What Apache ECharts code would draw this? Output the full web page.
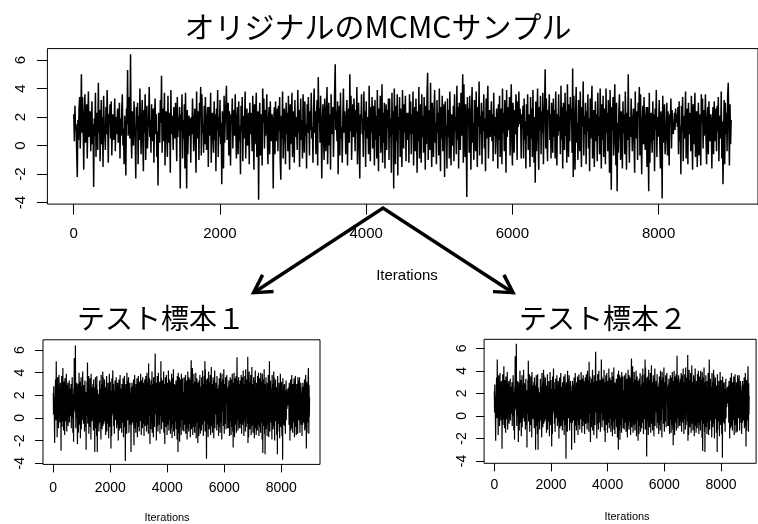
<!DOCTYPE html>
<html>
<head>
<meta charset="utf-8">
<script src="https://cdn.jsdelivr.net/npm/echarts@6/dist/echarts.min.js"></script>
<style>
  html, body { margin: 0; padding: 0; background: #ffffff; }
  #chart { width: 758px; height: 524px; }
</style>
</head>
<body>
<div id="chart"></div>
<script>
// MCMC trace, one value every `iterStep` iterations (1 .. 8993)
const iterStep = 8;
const samples = [
  2.2, 0.3, 2.8, 1.1, 1.5, -0.6, -2.2, 1.8, 0.4, 2.6, 3.4, -0.2, 1.7, 5.0, 0.9, 3.4, 1.3, -1.7, 2.1, 3.6, 0.2, 1.0, 2.9, -0.9, 1.6,
  3.8, 0.6, 1.9, 2.4, -0.4, 1.2, 3.1, 0.1, 1.5, -2.9, 1.9, 0.7, 3.7, -0.8, 2.3, 1.0, -0.3, 4.4, 0.9, 2.5, -1.1, 1.4, 3.2, 0.1, 2.0,
  -1.5, 3.5, 1.4, 0.6, -0.3, 2.7, 0.8, 3.9, 1.6, -1.2, 2.2, 1.6, 2.9, 0.5, 3.1, -0.7, 1.3, 2.2, 0.4, 1.3, 3.3, -0.4, 2.0, 0.8, 1.7,
  2.6, 0.2, 1.1, 3.0, -0.9, 1.9, 0.7, 2.4, 3.6, 0.0, 1.2, -1.3, 2.1, 0.4, -2.1, 2.6, 1.5, 5.3, 0.7, 1.9, 3.4, 0.5, 6.4, 1.0, -0.9,
  2.4, 1.2, 0.0, 3.1, 1.4, 0.5, -2.3, 2.7, 1.1, 3.0, -1.3, 2.1, 0.4, 4.0, 1.6, -0.6, 1.7, 3.2, 0.2, -1.8, 2.5, 0.9, 3.6, -1.0, 1.5,
  2.8, -0.2, 1.3, 2.0, 4.1, 0.6, 1.8, -0.5, 2.9, 1.4, 0.3, 2.6, -1.2, 1.9, 3.3, 0.8, 2.2, -0.8, 1.0, -2.8, 2.3, 1.0, 0.2, 3.2, 1.6,
  4.9, -0.5, 2.6, 0.3, 1.5, 3.7, -1.4, 1.9, 2.4, 0.7, -0.8, 3.5, 0.2, 1.6, 2.3, -1.9, 3.9, 0.8, 2.1, 1.2, -0.3, 2.7, 1.7, 0.5, 3.0,
  1.2, -1.1, 3.4, 0.6, 2.0, 1.1, 2.7, -3.0, 2.2, 1.0, 3.6, -0.9, 1.8, 0.5, 2.9, -1.6, 3.7, 0.3, -3.0, 2.5, -0.6, 1.4, 2.1, 0.7, 1.9,
  -1.2, 2.0, 0.8, 3.3, 1.5, -0.4, 1.7, 2.6, 0.1, -1.9, 3.8, 0.5, 1.2, 2.4, -1.0, 3.0, 2.1, 4.1, -0.7, 3.6, 0.9, 1.5, -0.5, 2.8, 0.1,
  3.4, 1.1, -0.3, 1.9, 2.7, -1.5, 2.7, 0.7, 1.3, 3.7, -1.2, 1.4, 2.3, 0.6, -0.5, 3.1, 0.4, 2.2, -1.8, 2.6, 1.1, 3.9, -0.8, 2.0, 0.6,
  3.2, 0.1, 1.6, -2.7, 2.4, 1.3, -1.6, 3.5, 0.2, 1.8, 2.9, 4.2, 0.4, 1.5, 3.0, -0.7, 2.4, 0.9, -1.4, 2.2, 1.6, 3.3, -0.2, 2.5, 1.0,
  0.7, 3.6, 1.2, -0.9, 1.9, 2.7, -0.6, 3.1, 0.3, 1.4, -2.0, 2.8, 1.0, 3.4, -1.1, 2.1, 0.5, 1.6, 3.8, -0.9, 1.7, 2.6, 0.0, 1.3, 2.3,
  -1.3, 3.0, 0.8, 2.3, 1.5, -0.4, 3.5, 1.2, -1.7, 2.9, 0.1, 1.9, 3.7, -0.8, 1.6, 2.4, -3.8, 1.5, 3.0, -0.7, 2.2, 0.9, -1.4, 4.0, 1.6,
  3.3, -0.2, 2.5, 0.7, 1.8, 3.6, 0.4, -1.3, 1.9, 2.7, -0.6, 3.1, 1.0, 0.3, 2.2, 1.4, -3.0, 1.9, 2.7, -0.6, 3.1, 0.3, 1.4, 2.6, -0.4,
  2.8, 1.0, 3.4, -1.1, -2.4, 2.1, 0.5, 3.8, -0.9, 1.7, 2.6, 0.6, -1.3, 3.0, 0.8, 2.3, -0.4, 3.5, 1.2, -1.7, 2.9, 0.1, 1.8, 3.7, -0.8,
  1.6, 2.4, -1.2, 3.2, 0.6, 2.0, 1.2, -0.3, 3.9, 0.9, 2.5, -1.5, 1.3, 3.3, 0.4, 1.8, -0.9, 3.6, 2.2, -0.5, 3.1, 0.7, 1.5, -1.6, 2.9,
  0.9, 3.4, 1.7, -0.7, 2.4, 1.1, 3.7, 0.5, 1.3, -1.2, 2.6, 4.0, 0.9, 2.4, -0.6, 2.1, 3.2, -1.4, 4.8, 1.6, 2.6, 0.2, 3.5, 1.4, -2.3,
  1.4, 2.9, 0.6, -1.0, 3.3, 1.8, -0.4, 2.5, 4.1, -1.3, 1.2, 3.0, 0.0, 2.2, -1.7, 3.6, 0.8, 1.9, 2.7, -0.8, 1.4, 3.8, 5.7, 1.1, 2.4,
  0.3, 3.1, -2.0, 1.9, 2.8, -0.7, 3.7, 0.5, 1.3, -1.2, 2.0, 4.0, 0.9, 2.4, 1.6, -0.6, 2.1, 3.2, -1.4, 1.6, 2.6, 0.2, 5.0, 1.0, 3.5,
  -1.0, 1.4, 2.9, 0.6, 3.3, 1.8, -0.4, 2.5, 0.9, 4.1, -1.3, 1.2, 3.0, 0.0, -2.3, 2.2, 1.7, 3.6, 0.8, 1.9, -0.8, 3.8, 1.1, 2.4, -1.5,
  3.1, 0.5, 2.0, 1.3, -0.6, 4.2, 1.3, -1.1, 2.7, 0.9, 3.4, -0.2, 1.7, 2.8, -1.4, 3.2, 0.4, 2.1, -0.9, 3.9, 1.0, -1.8, 2.6, 0.7, 3.5,
  -0.5, 1.5, 4.3, -1.2, 2.3, 0.2, 3.0, -1.6, 1.8, 2.9, -0.3, 2.5, 1.2, 3.3, -1.0, 3.3, 0.6, 1.9, -1.9, 3.7, 0.8, 2.4, -3.0, 4.0, 1.4,
  -1.3, 2.8, 0.3, 3.6, -2.1, 2.0, 1.1, 3.4, -0.8, 2.6, 0.5, -1.5, 3.9, 1.6, -0.2, 2.9, 0.9, 3.5, -1.1, 1.8, 2.3, 0.4, 2.3, -1.2, 3.6,
  0.8, 3.1, -0.6, 2.2, 0.8, 3.8, -1.4, 1.5, 2.7, -0.4, 3.3, 1.0, -1.9, 2.4, 0.3, 4.1, -0.9, 1.7, 2.9, -1.2, 3.6, 0.6, 2.1, -0.5, 3.4,
  1.3, -1.7, 2.8, 0.1, 3.7, 5.1, -1.0, 1.9, 2.5, -0.3, 4.4, 0.7, -1.5, 3.0, 1.4, -0.8, 2.6, 3.9, 0.2, 1.6, -1.3, 3.2, 0.9, 2.3, -0.7,
  4.0, 1.1, -1.8, 2.7, 0.5, 3.5, -0.4, 1.8, 2.9, -2.2, 3.1, 0.8, 1.4, -1.6, 3.3, 0.6, 2.5, -0.9, 3.8, 1.2, -1.4, 2.2, 1.5, 0.0, 2.8,
  -1.1, 3.6, 1.0, 2.0, -0.6, 4.2, 0.4, 2.7, -1.6, 3.0, 1.5, -0.3, 3.7, 0.7, 2.4, 5.0, -1.2, 4.3, 1.1, -0.8, 2.9, 0.3, -3.6, 3.4, 1.8,
  2.6, -0.5, 3.5, 0.9, -1.7, 2.3, 4.1, 0.2, 1.6, -1.0, 3.2, 2.0, -0.4, 3.8, 0.6, -1.5, 2.7, 1.3, 4.5, -0.7, 2.1, 0.8, 3.0, -1.3, 2.4,
  1.0, 3.6, -0.2, 1.9, -1.8, 3.3, 0.5, 2.8, 4.2, -0.9, 1.4, 2.5, 0.6, 1.7, 3.1, 0.3, 2.2, -1.1, 3.7, 0.7, 2.0, -0.6, 1.2, 2.6, 1.2,
  -1.6, 2.9, 0.4, 3.5, -0.8, 1.8, 2.6, -1.3, 4.0, 0.9, 2.3, -0.4, 3.2, 1.5, -1.9, 3.9, 0.6, 1.3, 2.7, 1.1, 3.4, -0.7, 2.1, 4.3, 0.2,
  -1.4, 3.0, 1.6, -0.5, 2.5, 0.8, 3.6, 2.4, -1.0, 3.1, 1.3, 3.8, 1.5, 2.6, 1.9, -0.9, 2.2, 1.2, 2.8, -0.9, 3.3, 0.4, 1.7, -1.6, 2.9,
  0.7, 3.6, -0.3, 2.2, 1.0, -1.5, 3.4, 0.5, 2.6, -0.8, 3.9, 1.4, -1.2, 2.0, -2.6, 3.1, -0.4, 1.8, 4.0, 0.3, -1.7, 2.7, 1.1, 3.5, -0.6,
  2.4, 0.9, 3.7, -1.3, 1.6, 2.8, 5.35, -0.2, 3.3, 0.6, -1.1, 2.5, 1.9, 3.6, 0.4, 2.2, -0.9, 3.0, 1.4, -0.5, 3.3, 0.6, 2.5, -0.9, 3.8,
  1.2, -1.4, 2.2, 0.7, 3.6, 1.0, 2.0, -0.6, 4.2, 0.4, 2.7, -1.6, 3.0, 1.5, -0.3, 3.7, 0.7, 2.4, -1.2, 4.3, 1.1, -0.8, 2.9, 0.3, 3.4,
  1.8, 2.6, -0.5, 5.4, -2.2, 3.5, 0.9, -1.7, 2.3, 4.1, 0.2, 1.6, -1.0, 3.2, 2.0, -0.4, 3.8, 0.6, -1.5, 2.7, 1.3, 4.5, -0.7, 2.1, 0.8,
  3.0, -1.3, 2.4, 1.0, 3.6, -0.2, 1.9, -1.8, 3.3, 0.5, 2.8, 4.2, -0.9, 1.4, 2.5, -1.5, 1.7, 3.1, 0.3, 2.2, -1.1, 3.7, 0.7, 2.0, -0.6,
  4.0, 1.2, -1.6, 2.9, 0.4, 3.5, -0.8, 1.8, 2.6, -1.3, 4.0, 0.9, 2.3, -0.4, 3.2, 1.5, -1.9, 3.9, 0.6, -3.1, 2.7, 1.1, 3.4, -0.7, 2.1,
  4.3, 0.2, -1.4, 3.0, -3.2, 1.6, -0.5, 2.5, 3.6, 0.8, -1.0, 2.4, 1.3, -1.6, 3.1, 0.9, 2.2, -0.6, 3.8, 1.0, -1.7, 2.3, 0.4, 5.0, 1.2,
  -1.2, 2.0, 0.6, 3.3, 1.5, -0.4, 1.7, 2.6, 0.1, -1.9, 3.8, 0.5, 1.2, 2.4, -1.0, 3.0, 2.1, 4.1, -0.7, 3.6, 0.9, -2.0, 1.5, 2.8, 0.1,
  3.4, 1.1, -0.3, 1.9, 2.7, -1.5, 2.7, 0.7, -3.2, 3.7, -1.2, 1.4, 2.3, 0.6, -0.5, 3.1, 0.4, 2.2, -1.8, 2.6, 1.1, 3.9, -0.8, 2.0, 0.6,
  1.5, 3.2, 0.1, -1.6, 2.4, 1.3, -3.7, 3.5, 0.2, 1.8, 2.9, -0.6, 0.4, 1.5, 3.0, -0.7, 2.4, 0.9, -1.4, 2.2, 1.6, 3.3, -0.2, 2.5, 1.0,
  0.8, 1.4, 2.3, 1.1, 2.6, 1.6, 2.2, 1.3, 2.7, -0.6, 3.1, 0.3, 1.4, -2.0, 2.8, 1.0, 3.4, -1.1, 2.1, 0.5, 1.6, 3.8, -0.9, 1.7, 2.6,
  -1.3, 3.0, 0.8, 2.3, 1.5, -0.4, 3.5, 1.2, -1.7, 2.9, 0.1, 1.9, 3.7, -0.8, 1.6, 2.4, -1.5, 1.5, 3.0, -0.7, 2.2, 0.9, -1.4, 3.6, 1.6,
  3.3, -0.2, 2.5, 0.7, 1.8, 3.6, 0.4, -1.3, 1.9, 2.7, -0.6, 3.1, 1.0, 0.3, 2.2, 1.4, -1.6, 1.9, 2.7, -0.6, 3.1, 0.3, 1.4, 2.6, -0.4,
  2.8, 1.0, 3.4, -1.1, 1.4, 2.1, 0.5, 3.8, -0.9, 1.7, -2.7, 0.6, 3.2, -1.3, 3.0, 0.8, 2.3, -0.4, 3.5, 4.4, 1.2, -1.4, 2.9, 0.1, 1.8
];

const xTicks = [0, 2000, 4000, 6000, 8000];
const yTicks = [-4, -2, 0, 2, 4, 6];

const mainTitle = 'オリジナルのMCMCサンプル';
const panelTitles = ['テスト標本１', 'テスト標本２'];
const xAxisTitle = 'Iterations';

const LATIN = "'Liberation Sans', Arial, sans-serif";
const CJK = "'Noto Sans CJK JP', 'Noto Sans', sans-serif";

const trace = samples.map((v, i) => [i * iterStep + 1, v]);

// one full-width trace on top, two smaller copies below
const panels = [
  { left: 47.4,  top: 48.6,  width: 719.3, height: 155.5, xMin: -360, xMax: 9360, yMin: -4.1, yMax: 6.8, tick: 10.5, font: 15, xMargin: 22, yMargin: 19, lw: 1.5 },
  { left: 43.0,  top: 339.8, width: 277.0, height: 124.6, xMin: -360, xMax: 9360, yMin: -4.1, yMax: 6.9, tick: 8,    font: 14, xMargin: 17, yMargin: 16, lw: 1.2 },
  { left: 484.1, top: 339.3, width: 272.0, height: 124.0, xMin: -360, xMax: 9238, yMin: -4.2, yMax: 6.8, tick: 8,    font: 14, xMargin: 15, yMargin: 15, lw: 1.2 }
];

const plainNumber = v => String(v);

const grid = panels.map(p => ({
  left: p.left, top: p.top, width: p.width, height: p.height,
  show: true, borderColor: '#000', borderWidth: 1, backgroundColor: 'transparent',
  containLabel: false
}));

const xAxis = panels.map((p, k) => ({
  type: 'value', gridIndex: k, min: p.xMin, max: p.xMax, position: 'bottom',
  axisLine: { show: false, onZero: false },
  splitLine: { show: false },
  axisTick: { show: true, inside: false, length: p.tick, customValues: xTicks, lineStyle: { color: '#000', width: 1 } },
  axisLabel: { customValues: xTicks, formatter: plainNumber, color: '#000', fontSize: p.font, fontFamily: LATIN, margin: p.xMargin }
}));

const yAxis = panels.map((p, k) => ({
  type: 'value', gridIndex: k, min: p.yMin, max: p.yMax, position: 'left',
  axisLine: { show: false, onZero: false },
  splitLine: { show: false },
  axisTick: { show: true, inside: false, length: p.tick, customValues: yTicks, lineStyle: { color: '#000', width: 1 } },
  axisLabel: { customValues: yTicks, formatter: plainNumber, rotate: 90, color: '#000', fontSize: p.font, fontFamily: LATIN, margin: p.yMargin }
}));

const series = panels.map((p, k) => ({
  type: 'line', xAxisIndex: k, yAxisIndex: k,
  data: trace, showSymbol: false, symbol: 'none', sampling: null,
  lineStyle: { color: '#000', width: p.lw, join: 'bevel' },
  clip: true, silent: true
}));

// Arrows from the full trace down to the two panels
const apex = [383, 208];
const tips = [[253.6, 292.7], [513, 292.7]];
function arrowHead(tip, from, len, ang) {
  const a = Math.atan2(from[1] - tip[1], from[0] - tip[0]);
  return [
    [tip[0] + len * Math.cos(a + ang), tip[1] + len * Math.sin(a + ang)],
    tip,
    [tip[0] + len * Math.cos(a - ang), tip[1] + len * Math.sin(a - ang)]
  ];
}
const arrowStyle = { stroke: '#000', lineWidth: 3.5, fill: null, lineJoin: 'miter', lineCap: 'butt' };

const graphic = [
  { type: 'text', x: 378, y: 27, style: { text: mainTitle, font: `30px ${CJK}`, fill: '#000', align: 'center', verticalAlign: 'middle' } },
  { type: 'text', x: 161, y: 318, style: { text: panelTitles[0], font: `28px ${CJK}`, fill: '#000', align: 'center', verticalAlign: 'middle' } },
  { type: 'text', x: 603, y: 318, style: { text: panelTitles[1], font: `28px ${CJK}`, fill: '#000', align: 'center', verticalAlign: 'middle' } },
  { type: 'text', x: 407, y: 276, style: { text: xAxisTitle, font: `15px ${LATIN}`, fill: '#000', align: 'center', verticalAlign: 'middle' } },
  { type: 'text', x: 167, y: 518, style: { text: xAxisTitle, font: `11px ${LATIN}`, fill: '#000', align: 'center', verticalAlign: 'middle' } },
  { type: 'text', x: 627, y: 517, style: { text: xAxisTitle, font: `11px ${LATIN}`, fill: '#000', align: 'center', verticalAlign: 'middle' } },
  { type: 'polyline', shape: { points: [tips[0], apex, tips[1]] }, style: arrowStyle },
  { type: 'polyline', shape: { points: arrowHead(tips[0], apex, 20, Math.PI / 6) }, style: arrowStyle },
  { type: 'polyline', shape: { points: arrowHead(tips[1], apex, 20, Math.PI / 6) }, style: arrowStyle }
];

const chart = echarts.init(document.getElementById('chart'), null, { renderer: 'canvas' });
chart.setOption({
  animation: false,
  backgroundColor: '#ffffff',
  grid, xAxis, yAxis, series, graphic
});
</script>
</body>
</html>
